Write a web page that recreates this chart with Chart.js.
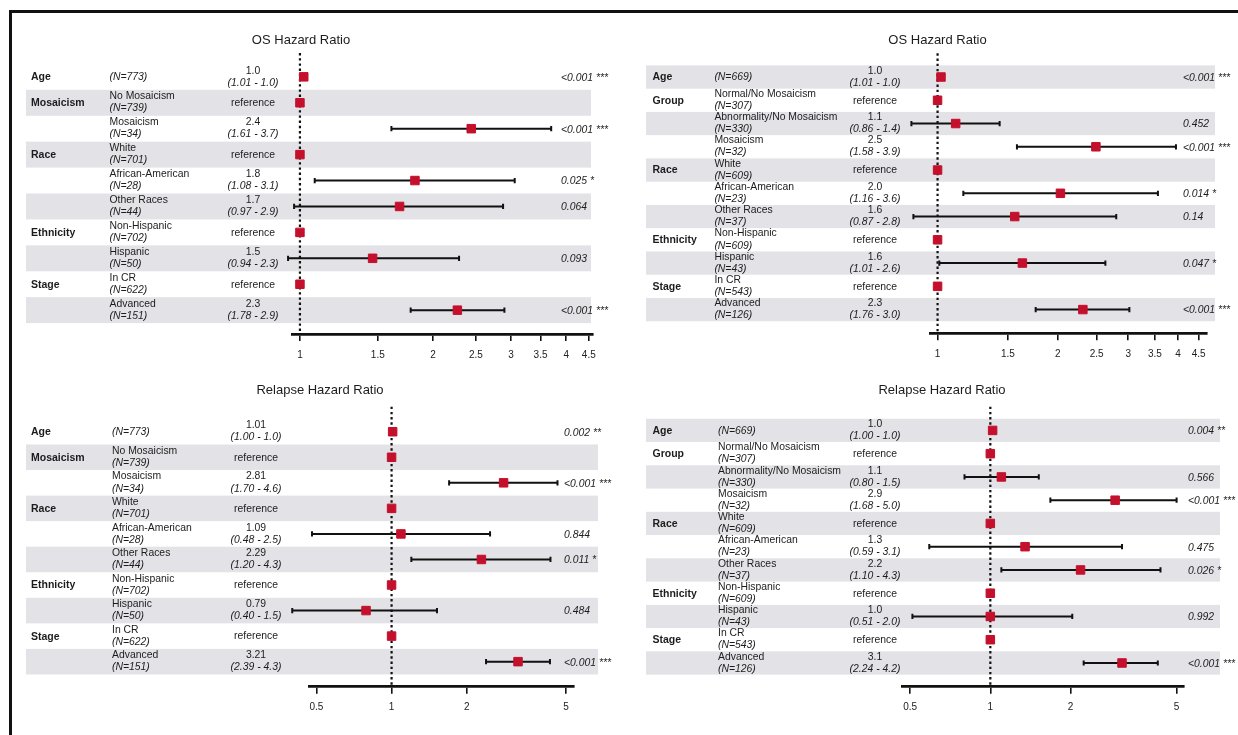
<!DOCTYPE html>
<html>
<head>
<meta charset="utf-8">
<script src="https://cdn.jsdelivr.net/npm/chart.js@4.4.1/dist/chart.umd.min.js"></script>
<style>
  html, body { margin: 0; padding: 0; background: #fff; }
  #page { position: relative; width: 1238px; height: 735px; overflow: hidden; background: #fff; }
  #frame { position: absolute; left: 9px; top: 10px; width: 1240px; height: 740px;
           border-left: 3px solid #111; border-top: 3px solid #111; }
  canvas { position: absolute; }
</style>
</head>
<body>
<div id="page">
  <div id="frame"></div>
  <canvas id="osLeft" width="619" height="370" style="left:0;top:0"></canvas>
  <canvas id="osRight" width="619" height="370" style="left:619px;top:0"></canvas>
  <canvas id="relLeft" width="619" height="365" style="left:0;top:370px"></canvas>
  <canvas id="relRight" width="619" height="365" style="left:619px;top:370px"></canvas>
</div>
<script>
// Forest plots: hazard ratios (OS / relapse) for two cohorts.

// ---- rows, left cohort
const leftGroups = ['Age', 'Mosaicism', '', 'Race', '', '', 'Ethnicity', '', 'Stage', ''];
const leftLevels = ['', 'No Mosaicism', 'Mosaicism', 'White', 'African-American', 'Other Races', 'Non-Hispanic', 'Hispanic', 'In CR', 'Advanced'];
const leftN = [773, 739, 34, 701, 28, 44, 702, 50, 622, 151];

// ---- rows, right cohort
const rightGroups = ['Age', 'Group', '', '', 'Race', '', '', 'Ethnicity', '', 'Stage', ''];
const rightLevels = ['', 'Normal/No Mosaicism', 'Abnormality/No Mosaicism', 'Mosaicism', 'White', 'African-American', 'Other Races', 'Non-Hispanic', 'Hispanic', 'In CR', 'Advanced'];
const rightN = [669, 307, 330, 32, 609, 23, 37, 609, 43, 543, 126];

// ---- OS, left
const osLeftEst = [1.02, 1, 2.44, 1, 1.82, 1.68, 1, 1.46, 1, 2.27];
const osLeftLow = [1.01, null, 1.61, null, 1.08, 0.97, null, 0.94, null, 1.78];
const osLeftHigh = [1.02, null, 3.7, null, 3.06, 2.88, null, 2.29, null, 2.9];
const osLeftHr = ['1.0', 'reference', '2.4', 'reference', '1.8', '1.7', 'reference', '1.5', 'reference', '2.3'];
const osLeftCi = ['(1.01 - 1.0)', '', '(1.61 - 3.7)', '', '(1.08 - 3.1)', '(0.97 - 2.9)', '', '(0.94 - 2.3)', '', '(1.78 - 2.9)'];
const osLeftP = ['<0.001 ***', '', '<0.001 ***', '', '0.025 *', '0.064', '', '0.093', '', '<0.001 ***'];

// ---- OS, right
const osRightEst = [1.02, 1, 1.11, 2.49, 1, 2.03, 1.56, 1, 1.63, 1, 2.31];
const osRightLow = [1.01, null, 0.86, 1.58, null, 1.16, 0.87, null, 1.01, null, 1.76];
const osRightHigh = [1.02, null, 1.43, 3.95, null, 3.56, 2.8, null, 2.63, null, 3.02];
const osRightHr = ['1.0', 'reference', '1.1', '2.5', 'reference', '2.0', '1.6', 'reference', '1.6', 'reference', '2.3'];
const osRightCi = ['(1.01 - 1.0)', '', '(0.86 - 1.4)', '(1.58 - 3.9)', '', '(1.16 - 3.6)', '(0.87 - 2.8)', '', '(1.01 - 2.6)', '', '(1.76 - 3.0)'];
const osRightP = ['<0.001 ***', '', '0.452', '<0.001 ***', '', '0.014 *', '0.14', '', '0.047 *', '', '<0.001 ***'];

// ---- relapse, left
const relLeftEst = [1.01, 1, 2.81, 1, 1.09, 2.29, 1, 0.79, 1, 3.21];
const relLeftLow = [1.0, null, 1.7, null, 0.48, 1.2, null, 0.4, null, 2.39];
const relLeftHigh = [1.02, null, 4.62, null, 2.48, 4.33, null, 1.52, null, 4.31];
const relLeftHr = ['1.01', 'reference', '2.81', 'reference', '1.09', '2.29', 'reference', '0.79', 'reference', '3.21'];
const relLeftCi = ['(1.00 - 1.0)', '', '(1.70 - 4.6)', '', '(0.48 - 2.5)', '(1.20 - 4.3)', '', '(0.40 - 1.5)', '', '(2.39 - 4.3)'];
const relLeftP = ['0.002 **', '', '<0.001 ***', '', '0.844', '0.011 *', '', '0.484', '', '<0.001 ***'];

// ---- relapse, right
const relRightEst = [1.02, 1, 1.1, 2.94, 1, 1.35, 2.18, 1, 1.0, 1, 3.12];
const relRightLow = [1.0, null, 0.8, 1.68, null, 0.59, 1.1, null, 0.51, null, 2.24];
const relRightHigh = [1.03, null, 1.52, 5.0, null, 3.12, 4.35, null, 2.03, null, 4.25];
const relRightHr = ['1.0', 'reference', '1.1', '2.9', 'reference', '1.3', '2.2', 'reference', '1.0', 'reference', '3.1'];
const relRightCi = ['(1.00 - 1.0)', '', '(0.80 - 1.5)', '(1.68 - 5.0)', '', '(0.59 - 3.1)', '(1.10 - 4.3)', '', '(0.51 - 2.0)', '', '(2.24 - 4.2)'];
const relRightP = ['0.004 **', '', '0.566', '<0.001 ***', '', '0.475', '0.026 *', '', '0.992', '', '<0.001 ***'];

// ---- axis ticks
const osTicks = [1, 1.5, 2, 2.5, 3, 3.5, 4, 4.5];
const relapseTicks = [0.5, 1, 2, 5];

const FONT = '"Liberation Sans", Arial, Helvetica, sans-serif';
const INK = '#1c1c1c';
const RED = '#c4102c';
const SHADE = '#e2e2e7';
const AXIS_H = 30;

// page coordinates (px) for each panel; ox/oy = canvas offset
const panels = [
  {
    id: 'osLeft', title: 'OS Hazard Ratio', ox: 0, oy: 0, w: 619, h: 370,
    groups: leftGroups, levels: leftLevels, n: leftN,
    est: osLeftEst, low: osLeftLow, high: osLeftHigh, hr: osLeftHr, ci: osLeftCi, p: osLeftP,
    ticks: osTicks, min: 0.963, max: 4.6,
    axisL: 292.7, axisR: 593, top: 53, axisY: 334, pad: 0.42,
    colCat: 31, colLab: 109.5, colHr: 253, colP: 561, shade: [26, 591], titleX: 301, titleY: 40,
  },
  {
    id: 'osRight', title: 'OS Hazard Ratio', ox: 619, oy: 0, w: 619, h: 370,
    groups: rightGroups, levels: rightLevels, n: rightN,
    est: osRightEst, low: osRightLow, high: osRightHigh, hr: osRightHr, ci: osRightCi, p: osRightP,
    ticks: osTicks, min: 0.959, max: 4.71,
    axisL: 930.3, axisR: 1206.5, top: 53.3, axisY: 333.3, pad: 0.52,
    colCat: 652.5, colLab: 714.4, colHr: 875, colP: 1183, shade: [646, 1215], titleX: 937.5, titleY: 40,
  },
  {
    id: 'relLeft', title: 'Relapse Hazard Ratio', ox: 0, oy: 370, w: 619, h: 365,
    groups: leftGroups, levels: leftLevels, n: leftN,
    est: relLeftEst, low: relLeftLow, high: relLeftHigh, hr: relLeftHr, ci: relLeftCi, p: relLeftP,
    ticks: relapseTicks, min: 0.469, max: 5.39,
    axisL: 309.5, axisR: 574.2, top: 406.7, axisY: 686.7, pad: 0.48,
    colCat: 31, colLab: 112, colHr: 256, colP: 564, shade: [26, 598], titleX: 320, titleY: 390.7,
  },
  {
    id: 'relRight', title: 'Relapse Hazard Ratio', ox: 619, oy: 370, w: 619, h: 365,
    groups: rightGroups, levels: rightLevels, n: rightN,
    est: relRightEst, low: relRightLow, high: relRightHigh, hr: relRightHr, ci: relRightCi, p: relRightP,
    ticks: relapseTicks, min: 0.469, max: 5.33,
    axisL: 902.7, axisR: 1184, top: 406.7, axisY: 686.7, pad: 0.52,
    colCat: 652.5, colLab: 718, colHr: 875, colP: 1188, shade: [646, 1220], titleX: 942, titleY: 390.7,
  },
];

function makeForestPlugin(p) {
  const lx = (v) => v - p.ox;
  const rows = p.levels.length;
  return {
    id: 'forest_' + p.id,
    beforeDraw(chart) {
      const { ctx } = chart;
      const y = chart.scales.y;
      ctx.save();
      ctx.fillStyle = SHADE;
      for (let i = 0; i < rows; i += 1) {
        if ((rows - 1 - i) % 2 !== 0) continue;
        const top = y.getPixelForValue(i - 0.5);
        const bot = y.getPixelForValue(i + 0.5);
        ctx.fillRect(lx(p.shade[0]), top, p.shade[1] - p.shade[0], bot - top);
      }
      ctx.restore();
    },
    beforeDatasetsDraw(chart) {
      const { ctx, chartArea } = chart;
      const x = chart.scales.x;
      const y = chart.scales.y;
      ctx.save();
      // reference line at HR = 1
      const x1 = x.getPixelForValue(1);
      ctx.strokeStyle = '#111';
      ctx.lineWidth = 2.2;
      ctx.setLineDash([2.4, 2.8]);
      ctx.beginPath();
      ctx.moveTo(x1, chartArea.top);
      ctx.lineTo(x1, chartArea.bottom);
      ctx.stroke();
      ctx.setLineDash([]);
      // confidence intervals
      ctx.lineWidth = 2;
      for (let i = 0; i < rows; i += 1) {
        if (p.low[i] === null) continue;
        const yc = y.getPixelForValue(i);
        const a = x.getPixelForValue(p.low[i]);
        const b = x.getPixelForValue(p.high[i]);
        ctx.beginPath();
        ctx.moveTo(a, yc); ctx.lineTo(b, yc);
        ctx.moveTo(a, yc - 2.6); ctx.lineTo(a, yc + 2.6);
        ctx.moveTo(b, yc - 2.6); ctx.lineTo(b, yc + 2.6);
        ctx.stroke();
      }
      ctx.restore();
    },
    afterDraw(chart) {
      const { ctx } = chart;
      const y = chart.scales.y;
      ctx.save();
      ctx.fillStyle = INK;
      ctx.textBaseline = 'middle';

      ctx.textAlign = 'center';
      ctx.font = `13px ${FONT}`;
      ctx.fillText(p.title, lx(p.titleX), p.titleY - p.oy);

      for (let i = 0; i < rows; i += 1) {
        const yc = y.getPixelForValue(i);
        const nText = `(N=${p.n[i]})`;

        ctx.textAlign = 'left';
        if (p.groups[i]) {
          ctx.font = `bold 10.5px ${FONT}`;
          ctx.fillText(p.groups[i], lx(p.colCat), yc + 0.5);
        }
        if (p.levels[i]) {
          ctx.font = `10.4px ${FONT}`;
          ctx.fillText(p.levels[i], lx(p.colLab), yc - 6.2);
          ctx.font = `italic 10.4px ${FONT}`;
          ctx.fillText(nText, lx(p.colLab), yc + 5.8);
        } else {
          ctx.font = `italic 10.4px ${FONT}`;
          ctx.fillText(nText, lx(p.colLab), yc + 0.5);
        }

        ctx.textAlign = 'center';
        if (p.ci[i]) {
          ctx.font = `10.4px ${FONT}`;
          ctx.fillText(p.hr[i], lx(p.colHr), yc - 6.2);
          ctx.font = `italic 10.4px ${FONT}`;
          ctx.fillText(p.ci[i], lx(p.colHr), yc + 5.8);
        } else {
          ctx.font = `10.4px ${FONT}`;
          ctx.fillText(p.hr[i], lx(p.colHr), yc + 0.5);
        }

        if (p.p[i]) {
          ctx.textAlign = 'left';
          ctx.font = `italic 10.4px ${FONT}`;
          ctx.fillText(p.p[i], lx(p.colP), yc + 1);
        }
      }
      ctx.restore();
    },
  };
}

function renderPanel(p) {
  const canvas = document.getElementById(p.id);
  const rows = p.levels.length;
  return new Chart(canvas, {
    type: 'scatter',
    data: {
      datasets: [{
        data: p.est.map((v, i) => ({ x: v, y: i })),
        pointStyle: 'rect',
        pointRadius: 6,
        backgroundColor: RED,
        borderColor: RED,
        borderWidth: 1,
      }],
    },
    options: {
      responsive: false,
      animation: false,
      devicePixelRatio: 1,
      events: [],
      layout: {
        padding: {
          left: p.axisL - p.ox,
          right: p.w - (p.axisR - p.ox),
          top: p.top - p.oy,
          bottom: p.h - (p.axisY - p.oy) - AXIS_H,
        },
      },
      plugins: { legend: { display: false }, tooltip: { enabled: false }, title: { display: false } },
      scales: {
        x: {
          type: 'logarithmic',
          min: p.min,
          max: p.max,
          afterBuildTicks: (axis) => { axis.ticks = p.ticks.map((v) => ({ value: v })); },
          afterFit: (axis) => { axis.height = AXIS_H; },
          border: { display: true, color: '#111', width: 2.7 },
          grid: { drawOnChartArea: false, drawTicks: true, tickLength: 7, color: '#111', lineWidth: 1.6 },
          ticks: {
            autoSkip: false,
            maxRotation: 0,
            padding: 8,
            color: '#222',
            font: { family: FONT, size: 10 },
            callback: (value) => String(value),
          },
        },
        y: {
          type: 'linear',
          display: false,
          reverse: true,
          min: -0.5 - p.pad,
          max: rows - 0.5 + p.pad,
        },
      },
    },
    plugins: [makeForestPlugin(p)],
  });
}

panels.forEach(renderPanel);
</script>
</body>
</html>
